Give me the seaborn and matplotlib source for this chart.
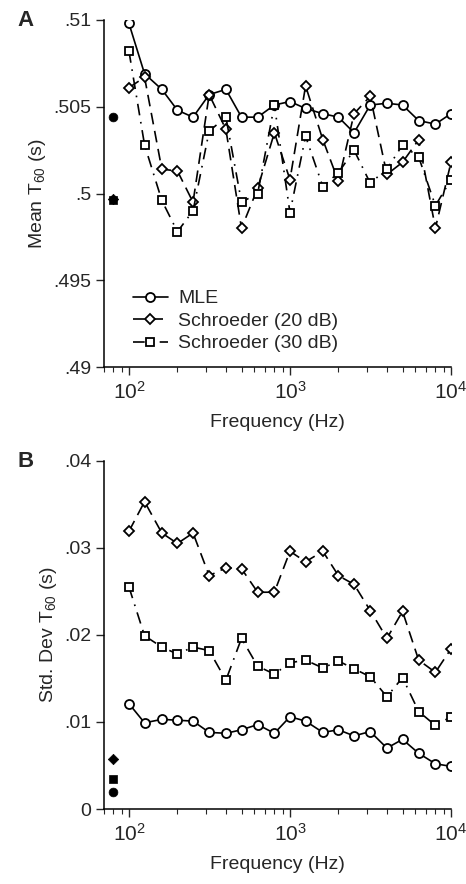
import numpy as np
import pandas as pd
import matplotlib
matplotlib.use("Agg")
import matplotlib.pyplot as plt
import seaborn as sns
from matplotlib.ticker import FixedLocator, LogLocator, NullFormatter, FixedFormatter

sns.set_style("ticks")
plt.rcParams['font.family'] = ['Liberation Sans', 'DejaVu Sans']
plt.rcParams['mathtext.fontset'] = 'custom'
plt.rcParams['mathtext.rm'] = 'Liberation Sans'
plt.rcParams['mathtext.it'] = 'Liberation Sans'

freqs = [100, 125, 160, 200, 250, 315, 400, 500, 630, 800, 1000, 1250,
         1600, 2000, 2500, 3150, 4000, 5000, 6300, 8000, 10000]

mean_mle = [.5098, .5069, .5060, .5048, .5044, .5057, .5060, .5044, .5044, .5051,
            .5053, .5049, .5046, .5044, .5035, .5051, .5052, .5051, .5042, .5040, .5046]
mean_s20 = [.5061, .5067, .5014, .5013, .4995, .5057, .5037, .4980, .5003, .5035,
            .5008, .5062, .5031, .5007, .5046, .5056, .5011, .5018, .5031, .4980, .5018]
mean_s30 = [.5082, .5028, .4996, .4978, .4990, .5036, .5044, .4995, .5000, .5051,
            .4989, .5033, .5004, .5012, .5025, .5006, .5014, .5028, .5021, .4993, .5008]

sd_mle = [.0121, .0099, .0103, .0102, .0101, .0088, .0087, .0091, .0097, .0087,
          .0106, .0101, .0088, .0091, .0084, .0089, .0070, .0080, .0064, .0052, .0049]
sd_s20 = [.0319, .0353, .0317, .0305, .0317, .0268, .0277, .0276, .0249, .0249,
          .0296, .0284, .0296, .0268, .0258, .0228, .0196, .0227, .0171, .0157, .0184]
sd_s30 = [.0255, .0199, .0186, .0178, .0186, .0182, .0148, .0196, .0164, .0155,
          .0168, .0171, .0162, .0170, .0161, .0152, .0129, .0151, .0112, .0096, .0106]

broad_freq = 80
broad_mean = {'MLE': .5044, 'Schroeder (20 dB)': .4997, 'Schroeder (30 dB)': .4996}
broad_sd = {'MLE': .0019, 'Schroeder (20 dB)': .0058, 'Schroeder (30 dB)': .0035}

labels = ['MLE', 'Schroeder (20 dB)', 'Schroeder (30 dB)']
xtick_labels = [r'$10^{2}$', r'$10^{3}$', r'$10^{4}$']
markers = {'MLE': 'o', 'Schroeder (20 dB)': 'D', 'Schroeder (30 dB)': 's'}
msizes = {'MLE': 6.5, 'Schroeder (20 dB)': 5.0, 'Schroeder (30 dB)': 5.5}
dashes = {'MLE': '-', 'Schroeder (20 dB)': (0, (7, 4)),
          'Schroeder (30 dB)': (0, (7, 4, 1, 4))}
FS = 14

fig = plt.figure(figsize=(4.66, 8.84), dpi=100)
axA = fig.add_axes([0.2232, 0.5848, 0.9678 - 0.2232, 0.9774 - 0.5848])
axB = fig.add_axes([0.2232, 0.0848, 0.9678 - 0.2232, 0.4788 - 0.0848])

def draw(ax, series, broad):
    for lab, vals in zip(labels, series):
        df = pd.DataFrame({'f': freqs, 'v': vals})
        sns.lineplot(data=df, x='f', y='v', ax=ax, color='black', lw=1.2,
                     linestyle=dashes[lab], marker=markers[lab], markersize=msizes[lab],
                     markerfacecolor='white', markeredgecolor='black',
                     markeredgewidth=1.3, label=lab, legend=False)
    for lab in labels:
        sns.scatterplot(x=[broad_freq], y=[broad[lab]], ax=ax, marker=markers[lab],
                        color='black', s={'MLE': 40, 'Schroeder (20 dB)': 28,
                                          'Schroeder (30 dB)': 30}[lab],
                        edgecolor='black', linewidth=0.5, legend=False, zorder=5)
    ax.set_xscale('log')
    ax.set_xlim(70, 10000)
    ax.xaxis.set_major_locator(FixedLocator([100, 1000, 10000]))
    ax.xaxis.set_major_formatter(FixedFormatter(xtick_labels))
    ax.xaxis.set_minor_locator(LogLocator(base=10, subs=np.arange(2, 10), numticks=20))
    ax.xaxis.set_minor_formatter(NullFormatter())
    ax.set_xlabel('Frequency (Hz)', fontsize=FS, labelpad=8)
    sns.despine(ax=ax)
    ax.tick_params(axis='both', which='major', direction='out', length=6, width=1,
                   labelsize=FS, pad=3)
    ax.tick_params(axis='x', which='major', labelsize=15, pad=4)
    ax.tick_params(axis='x', which='minor', direction='out', length=3.5, width=0.8)
    for s in ['left', 'bottom']:
        ax.spines[s].set_linewidth(1.1)
        ax.spines[s].set_color('black')

draw(axA, [mean_mle, mean_s20, mean_s30], broad_mean)
axA.set_ylim(.49, .51)
axA.yaxis.set_major_locator(FixedLocator([.49, .495, .5, .505, .51]))
axA.yaxis.set_major_formatter(FixedFormatter(['.49', '.495', '.5', '.505', '.51']))
axA.set_ylabel(r'Mean T$_{60}$ (s)', fontsize=FS, labelpad=4)
leg = axA.legend(loc='lower left', bbox_to_anchor=(0.06, 0.02), frameon=False,
                 fontsize=FS, handlelength=1.8, handletextpad=0.55,
                 labelspacing=0.25, borderaxespad=0)

draw(axB, [sd_mle, sd_s20, sd_s30], broad_sd)
axB.set_ylim(0, .04)
axB.yaxis.set_major_locator(FixedLocator([0, .01, .02, .03, .04]))
axB.yaxis.set_major_formatter(FixedFormatter(['0', '.01', '.02', '.03', '.04']))
axB.set_ylabel(r'Std. Dev T$_{60}$ (s)', fontsize=FS, labelpad=4)

fig.text(0.038, 0.977, 'A', fontsize=16, fontweight='bold', va='center')
fig.text(0.038, 0.478, 'B', fontsize=16, fontweight='bold', va='center')

fig.savefig('out.png', dpi=100, facecolor='white')
